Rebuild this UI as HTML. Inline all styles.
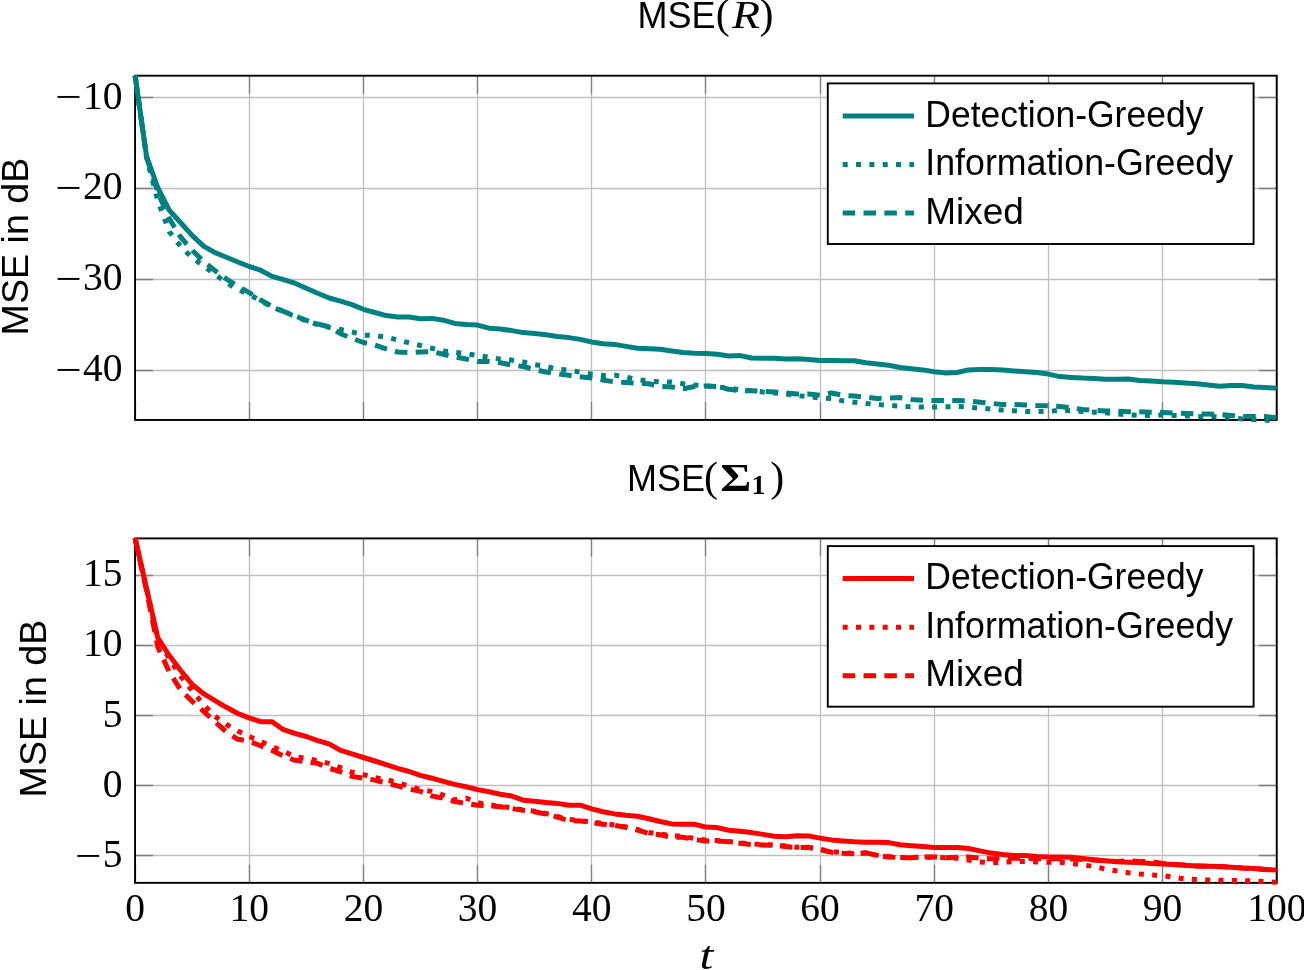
<!DOCTYPE html>
<html lang="en"><head><meta charset="utf-8"><title>MSE plots</title>
<style>html,body{margin:0;padding:0;background:#fff}body{width:1304px;height:970px;overflow:hidden}svg{display:block}.sans{font-family:"Liberation Sans", sans-serif;font-size:36.5px;fill:#000}.ser{font-family:"Liberation Serif", serif;font-size:39.5px;fill:#000}.grid{stroke:#bfbfbf;stroke-width:1.3;fill:none}.tick{stroke:#808080;stroke-width:1.3;fill:none}.box{stroke:#000;stroke-width:1.9;fill:none}.ln{fill:none;stroke-width:5;stroke-linejoin:round}.dot{stroke-dasharray:5 8.33}.dash{stroke-dasharray:12.5 8.33}</style></head><body>
<svg width="1304" height="970" viewBox="0 0 1304 970">
<rect width="1304" height="970" fill="#fff"/>
<defs><clipPath id="c1"><rect x="132.05" y="72.7" width="1147.7" height="350.25"/></clipPath><clipPath id="c2"><rect x="132.05" y="535.4" width="1147.7" height="350.45000000000005"/></clipPath></defs>
<!-- top plot -->
<path class="grid" d="M249.5 75.7 V419.95 M363.5 75.7 V419.95 M477.5 75.7 V419.95 M591.5 75.7 V419.95 M705.5 75.7 V419.95 M820.5 75.7 V419.95 M934.5 75.7 V419.95 M1048.5 75.7 V419.95 M1162.5 75.7 V419.95 M135.05 97.5 H1276.75 M135.05 188.5 H1276.75 M135.05 279.5 H1276.75 M135.05 370.5 H1276.75"/>
<path class="tick" d="M135.5 75.7 v18.0 M135.5 419.95 v-18.0 M249.5 75.7 v18.0 M249.5 419.95 v-18.0 M363.5 75.7 v18.0 M363.5 419.95 v-18.0 M477.5 75.7 v18.0 M477.5 419.95 v-18.0 M591.5 75.7 v18.0 M591.5 419.95 v-18.0 M705.5 75.7 v18.0 M705.5 419.95 v-18.0 M820.5 75.7 v18.0 M820.5 419.95 v-18.0 M934.5 75.7 v18.0 M934.5 419.95 v-18.0 M1048.5 75.7 v18.0 M1048.5 419.95 v-18.0 M1162.5 75.7 v18.0 M1162.5 419.95 v-18.0 M1276.5 75.7 v18.0 M1276.5 419.95 v-18.0 M135.05 97.5 h18.0 M1276.75 97.5 h-18.0 M135.05 188.5 h18.0 M1276.75 188.5 h-18.0 M135.05 279.5 h18.0 M1276.75 279.5 h-18.0 M135.05 370.5 h18.0 M1276.75 370.5 h-18.0"/>
<rect class="box" x="135.05" y="75.7" width="1141.7" height="344.25"/>
<g clip-path="url(#c1)" stroke="#008080">
<path class="ln" d="M135.1 75.6 L146.5 156.0 L157.9 188.0 L169.3 210.3 L180.7 222.8 L192.1 235.4 L203.6 246.1 L215.0 252.6 L226.4 257.3 L237.8 262.0 L249.2 266.5 L260.6 270.2 L272.1 276.4 L283.5 279.6 L294.9 283.2 L306.3 288.2 L317.7 293.3 L329.1 298.0 L340.6 301.2 L352.0 304.6 L363.4 309.3 L374.8 312.5 L386.2 315.6 L397.6 317.1 L409.1 317.1 L420.5 318.7 L431.9 318.4 L443.3 320.2 L454.7 323.4 L466.1 324.6 L477.6 325.1 L489.0 328.2 L500.4 329.1 L511.8 330.6 L523.2 332.6 L534.6 333.4 L546.1 334.8 L557.5 336.5 L568.9 337.6 L580.3 339.4 L591.7 342.0 L603.1 343.8 L614.6 344.4 L626.0 346.4 L637.4 348.2 L648.8 348.8 L660.2 349.3 L671.6 351.0 L683.1 352.5 L694.5 353.2 L705.9 353.6 L717.3 354.3 L728.7 356.0 L740.2 355.6 L751.6 358.0 L763.0 358.3 L774.4 358.2 L785.8 358.9 L797.2 358.7 L808.7 359.5 L820.1 360.4 L831.5 360.4 L842.9 360.7 L854.3 360.7 L865.7 362.8 L877.2 363.9 L888.6 365.3 L900.0 367.5 L911.4 368.7 L922.8 369.9 L934.2 371.8 L945.7 373.1 L957.1 372.5 L968.5 369.9 L979.9 369.4 L991.3 369.6 L1002.7 369.9 L1014.2 370.9 L1025.6 371.8 L1037.0 372.5 L1048.4 374.1 L1059.8 376.6 L1071.2 377.4 L1082.7 378.1 L1094.1 378.5 L1105.5 379.2 L1116.9 379.2 L1128.3 379.0 L1139.7 380.5 L1151.2 381.0 L1162.6 381.8 L1174.0 382.2 L1185.4 382.9 L1196.8 383.8 L1208.2 385.1 L1219.7 386.2 L1231.1 385.6 L1242.5 385.6 L1253.9 386.9 L1265.3 387.5 L1276.8 388.2"/>
<path class="ln dot" d="M135.1 75.6 L146.5 157.5 L157.9 201.0 L169.3 231.7 L180.7 246.5 L192.1 257.7 L203.6 266.0 L215.0 274.4 L226.4 282.7 L237.8 289.5 L249.2 294.5 L260.6 300.6 L272.1 307.1 L283.5 311.7 L294.9 316.3 L306.3 320.9 L317.7 324.5 L329.1 327.3 L340.6 329.5 L352.0 331.9 L363.4 335.1 L374.8 335.4 L386.2 337.2 L397.6 340.0 L409.1 342.8 L420.5 345.5 L431.9 348.3 L443.3 351.0 L454.7 352.3 L466.1 353.7 L477.6 355.5 L489.0 357.3 L500.4 359.1 L511.8 360.1 L523.2 361.9 L534.6 364.7 L546.1 366.5 L557.5 369.3 L568.9 370.2 L580.3 372.1 L591.7 374.2 L603.1 375.5 L614.6 375.1 L626.0 377.3 L637.4 379.5 L648.8 381.0 L660.2 381.9 L671.6 381.9 L683.1 383.7 L694.5 385.0 L705.9 386.0 L717.3 386.9 L728.7 388.0 L740.2 389.8 L751.6 390.6 L763.0 392.0 L774.4 393.0 L785.8 393.9 L797.2 395.7 L808.7 396.6 L820.1 398.0 L831.5 398.5 L842.9 400.9 L854.3 402.2 L865.7 403.4 L877.2 404.5 L888.6 405.3 L900.0 406.2 L911.4 406.8 L922.8 407.1 L934.2 407.1 L945.7 406.8 L957.1 406.4 L968.5 407.1 L979.9 408.2 L991.3 409.0 L1002.7 410.1 L1014.2 410.8 L1025.6 411.4 L1037.0 411.5 L1048.4 411.5 L1059.8 410.3 L1071.2 410.9 L1082.7 411.6 L1094.1 412.2 L1105.5 412.7 L1116.9 414.0 L1128.3 414.9 L1139.7 415.5 L1151.2 415.5 L1162.6 414.9 L1174.0 415.5 L1185.4 415.8 L1196.8 416.8 L1208.2 416.4 L1219.7 416.8 L1231.1 417.7 L1242.5 419.0 L1253.9 419.5 L1265.3 420.1 L1276.8 421.0"/>
<path class="ln dash" d="M135.1 75.6 L146.5 157.0 L157.9 192.7 L169.3 218.7 L180.7 237.2 L192.1 250.2 L203.6 261.4 L215.0 270.6 L226.4 279.0 L237.8 286.2 L249.2 292.6 L260.6 300.0 L272.1 306.5 L283.5 311.4 L294.9 315.8 L306.3 320.4 L317.7 324.0 L329.1 326.8 L340.6 333.7 L352.0 338.4 L363.4 342.5 L374.8 345.0 L386.2 348.8 L397.6 352.0 L409.1 352.5 L420.5 352.0 L431.9 351.5 L443.3 354.3 L454.7 356.8 L466.1 359.0 L477.6 361.5 L489.0 361.5 L500.4 362.8 L511.8 365.0 L523.2 366.5 L534.6 369.6 L546.1 372.0 L557.5 373.9 L568.9 375.3 L580.3 376.8 L591.7 378.1 L603.1 380.1 L614.6 381.9 L626.0 382.5 L637.4 383.2 L648.8 383.7 L660.2 386.5 L671.6 386.9 L683.1 388.7 L694.5 386.5 L705.9 386.0 L717.3 386.5 L728.7 389.3 L740.2 390.6 L751.6 390.7 L763.0 391.5 L774.4 392.0 L785.8 393.0 L797.2 393.9 L808.7 394.1 L820.1 395.3 L831.5 393.0 L842.9 395.3 L854.3 396.1 L865.7 397.2 L877.2 398.5 L888.6 398.1 L900.0 397.6 L911.4 399.4 L922.8 400.3 L934.2 400.5 L945.7 400.5 L957.1 400.5 L968.5 400.9 L979.9 402.2 L991.3 403.4 L1002.7 404.5 L1014.2 404.5 L1025.6 404.9 L1037.0 405.5 L1048.4 405.8 L1059.8 406.6 L1071.2 407.9 L1082.7 409.4 L1094.1 410.3 L1105.5 410.9 L1116.9 411.2 L1128.3 411.8 L1139.7 411.8 L1151.2 412.2 L1162.6 412.5 L1174.0 413.1 L1185.4 413.4 L1196.8 414.0 L1208.2 414.0 L1219.7 414.5 L1231.1 415.5 L1242.5 416.4 L1253.9 416.4 L1265.3 416.4 L1276.8 417.7"/>
</g>
<rect x="827.8" y="83.4" width="425.8" height="160.6" fill="#fff" stroke="#000" stroke-width="1.9"/>
<g stroke="#008080"><path class="ln" d="M842.7 115.9 H914"/><path class="ln dot" d="M842.7 164.6 H914"/><path class="ln dash" d="M842.7 213.0 H914"/></g>
<text class="sans" x="925.3" y="126.5" textLength="278.1" lengthAdjust="spacingAndGlyphs">Detection-Greedy</text>
<text class="sans" x="925.3" y="175.2" textLength="307.8" lengthAdjust="spacingAndGlyphs">Information-Greedy</text>
<text class="sans" x="925.2" y="223.6" textLength="98.7" lengthAdjust="spacingAndGlyphs">Mixed</text>
<text class="ser" y="108.5"><tspan x="55.2" dy="1.6" textLength="26.5" lengthAdjust="spacingAndGlyphs">−</tspan><tspan x="83.1" dy="-1.6">10</tspan></text>
<text class="ser" y="199.4"><tspan x="55.2" dy="1.6" textLength="26.5" lengthAdjust="spacingAndGlyphs">−</tspan><tspan x="83.1" dy="-1.6">20</tspan></text>
<text class="ser" y="290.3"><tspan x="55.2" dy="1.6" textLength="26.5" lengthAdjust="spacingAndGlyphs">−</tspan><tspan x="83.1" dy="-1.6">30</tspan></text>
<text class="ser" y="381.3"><tspan x="55.2" dy="1.6" textLength="26.5" lengthAdjust="spacingAndGlyphs">−</tspan><tspan x="83.1" dy="-1.6">40</tspan></text>
<text class="sans" x="637.5" y="27.5" textLength="78" lengthAdjust="spacingAndGlyphs">MSE</text>
<text class="ser" x="715.8" y="27.5" style="font-size:42px">(</text>
<text class="ser" x="732" y="27.5" style="font-size:41px" font-style="italic" textLength="28" lengthAdjust="spacingAndGlyphs">R</text>
<text class="ser" x="759.6" y="27.5" style="font-size:42px">)</text>
<text class="sans" transform="translate(27.7 335.4) rotate(-90)" textLength="177.7" lengthAdjust="spacingAndGlyphs">MSE in dB</text>
<!-- bottom plot -->
<path class="grid" d="M249.5 538.4 V882.85 M363.5 538.4 V882.85 M477.5 538.4 V882.85 M591.5 538.4 V882.85 M705.5 538.4 V882.85 M820.5 538.4 V882.85 M934.5 538.4 V882.85 M1048.5 538.4 V882.85 M1162.5 538.4 V882.85 M135.05 575.5 H1276.75 M135.05 645.5 H1276.75 M135.05 715.5 H1276.75 M135.05 785.5 H1276.75 M135.05 855.5 H1276.75"/>
<path class="tick" d="M135.5 538.4 v18.0 M135.5 882.85 v-18.0 M249.5 538.4 v18.0 M249.5 882.85 v-18.0 M363.5 538.4 v18.0 M363.5 882.85 v-18.0 M477.5 538.4 v18.0 M477.5 882.85 v-18.0 M591.5 538.4 v18.0 M591.5 882.85 v-18.0 M705.5 538.4 v18.0 M705.5 882.85 v-18.0 M820.5 538.4 v18.0 M820.5 882.85 v-18.0 M934.5 538.4 v18.0 M934.5 882.85 v-18.0 M1048.5 538.4 v18.0 M1048.5 882.85 v-18.0 M1162.5 538.4 v18.0 M1162.5 882.85 v-18.0 M1276.5 538.4 v18.0 M1276.5 882.85 v-18.0 M135.05 575.5 h18.0 M1276.75 575.5 h-18.0 M135.05 645.5 h18.0 M1276.75 645.5 h-18.0 M135.05 715.5 h18.0 M1276.75 715.5 h-18.0 M135.05 785.5 h18.0 M1276.75 785.5 h-18.0 M135.05 855.5 h18.0 M1276.75 855.5 h-18.0"/>
<rect class="box" x="135.05" y="538.4" width="1141.7" height="344.45000000000005"/>
<g clip-path="url(#c2)" stroke="#ff0000">
<path class="ln" d="M135.1 538.3 L146.5 588.3 L157.9 638.2 L169.3 655.6 L180.7 670.5 L192.1 684.4 L203.6 693.7 L215.0 700.6 L226.4 707.3 L237.8 713.5 L249.2 717.8 L260.6 721.7 L272.1 721.7 L283.5 729.7 L294.9 733.4 L306.3 736.5 L317.7 740.6 L329.1 743.9 L340.6 750.4 L352.0 753.8 L363.4 757.5 L374.8 761.0 L386.2 764.7 L397.6 768.4 L409.1 771.5 L420.5 775.4 L431.9 778.2 L443.3 781.3 L454.7 784.4 L466.1 786.8 L477.6 789.6 L489.0 791.8 L500.4 794.2 L511.8 796.0 L523.2 800.2 L534.6 801.2 L546.1 802.5 L557.5 803.4 L568.9 805.2 L580.3 805.2 L591.7 808.9 L603.1 811.7 L614.6 813.9 L626.0 815.3 L637.4 816.3 L648.8 818.8 L660.2 821.5 L671.6 823.9 L683.1 824.3 L694.5 824.3 L705.9 827.1 L717.3 827.6 L728.7 830.2 L740.2 831.3 L751.6 832.6 L763.0 834.4 L774.4 836.3 L785.8 836.8 L797.2 835.7 L808.7 835.9 L820.1 838.1 L831.5 839.9 L842.9 840.9 L854.3 841.8 L865.7 842.2 L877.2 842.2 L888.6 842.6 L900.0 844.8 L911.4 845.7 L922.8 846.6 L934.2 847.5 L945.7 847.5 L957.1 847.5 L968.5 848.5 L979.9 850.9 L991.3 853.1 L1002.7 854.5 L1014.2 855.5 L1025.6 855.5 L1037.0 856.4 L1048.4 856.9 L1059.8 857.1 L1071.2 857.2 L1082.7 858.4 L1094.1 859.7 L1105.5 860.7 L1116.9 861.7 L1128.3 862.2 L1139.7 862.6 L1151.2 863.5 L1162.6 863.9 L1174.0 864.4 L1185.4 865.3 L1196.8 865.9 L1208.2 866.3 L1219.7 866.6 L1231.1 867.2 L1242.5 868.1 L1253.9 868.5 L1265.3 869.6 L1276.8 869.9"/>
<path class="ln dot" d="M135.1 538.3 L146.5 589.0 L157.9 640.0 L169.3 658.5 L180.7 676.3 L192.1 690.6 L203.6 704.6 L215.0 716.3 L226.4 724.5 L237.8 731.0 L249.2 736.5 L260.6 741.2 L272.1 746.7 L283.5 751.4 L294.9 756.6 L306.3 758.4 L317.7 760.7 L329.1 763.4 L340.6 767.7 L352.0 772.2 L363.4 774.6 L374.8 777.7 L386.2 779.6 L397.6 782.6 L409.1 786.2 L420.5 789.6 L431.9 791.4 L443.3 795.1 L454.7 799.7 L466.1 798.2 L477.6 802.5 L489.0 804.8 L500.4 806.1 L511.8 808.0 L523.2 809.8 L534.6 811.3 L546.1 813.5 L557.5 816.5 L568.9 819.5 L580.3 820.5 L591.7 822.0 L603.1 823.5 L614.6 825.0 L626.0 827.0 L637.4 829.5 L648.8 832.5 L660.2 834.0 L671.6 835.5 L683.1 836.5 L694.5 838.5 L705.9 840.0 L717.3 840.5 L728.7 841.5 L740.2 842.8 L751.6 844.0 L763.0 844.5 L774.4 845.0 L785.8 846.0 L797.2 847.2 L808.7 847.5 L820.1 849.5 L831.5 851.5 L842.9 852.7 L854.3 853.5 L865.7 853.2 L877.2 855.2 L888.6 856.5 L900.0 857.4 L911.4 857.6 L922.8 857.2 L934.2 857.2 L945.7 857.7 L957.1 858.2 L968.5 860.1 L979.9 861.9 L991.3 862.8 L1002.7 862.3 L1014.2 861.5 L1025.6 861.5 L1037.0 861.9 L1048.4 862.3 L1059.8 862.3 L1071.2 863.5 L1082.7 864.8 L1094.1 866.6 L1105.5 869.0 L1116.9 870.9 L1128.3 872.7 L1139.7 874.0 L1151.2 874.9 L1162.6 875.5 L1174.0 877.3 L1185.4 879.1 L1196.8 879.5 L1208.2 879.9 L1219.7 880.3 L1231.1 880.4 L1242.5 880.6 L1253.9 881.0 L1265.3 881.5 L1276.8 882.3"/>
<path class="ln dash" d="M135.1 538.3 L146.5 590.5 L157.9 647.3 L169.3 672.0 L180.7 690.1 L192.1 701.3 L203.6 711.3 L215.0 721.7 L226.4 731.9 L237.8 739.3 L249.2 741.2 L260.6 745.8 L272.1 750.4 L283.5 756.0 L294.9 760.3 L306.3 761.6 L317.7 763.4 L329.1 768.1 L340.6 771.8 L352.0 776.4 L363.4 778.3 L374.8 780.1 L386.2 782.9 L397.6 785.8 L409.1 789.0 L420.5 791.4 L431.9 796.0 L443.3 798.2 L454.7 801.5 L466.1 803.4 L477.6 805.2 L489.0 805.6 L500.4 806.7 L511.8 808.5 L523.2 810.4 L534.6 811.7 L546.1 814.1 L557.5 817.2 L568.9 820.5 L580.3 820.9 L591.7 822.7 L603.1 824.2 L614.6 825.5 L626.0 827.3 L637.4 830.0 L648.8 833.5 L660.2 834.8 L671.6 837.2 L683.1 837.2 L694.5 839.6 L705.9 840.9 L717.3 840.9 L728.7 841.8 L740.2 843.3 L751.6 844.5 L763.0 844.9 L774.4 845.5 L785.8 846.4 L797.2 847.7 L808.7 847.3 L820.1 849.5 L831.5 852.3 L842.9 853.2 L854.3 853.7 L865.7 852.8 L877.2 855.5 L888.6 856.9 L900.0 857.7 L911.4 857.7 L922.8 856.9 L934.2 856.9 L945.7 857.7 L957.1 857.3 L968.5 856.9 L979.9 858.2 L991.3 858.8 L1002.7 858.2 L1014.2 858.2 L1025.6 858.2 L1037.0 858.8 L1048.4 858.8 L1059.8 858.8 L1071.2 859.1 L1082.7 859.5 L1094.1 860.1 L1105.5 860.9 L1116.9 861.5 L1128.3 860.7 L1139.7 861.5 L1151.2 861.7 L1162.6 863.5 L1174.0 864.4 L1185.4 865.3 L1196.8 865.9 L1208.2 866.3 L1219.7 866.6 L1231.1 867.2 L1242.5 868.1 L1253.9 868.5 L1265.3 869.6 L1276.8 869.9"/>
</g>
<rect x="827.8" y="546.1" width="425.8" height="160.6" fill="#fff" stroke="#000" stroke-width="1.9"/>
<g stroke="#ff0000"><path class="ln" d="M842.7 578.6 H914"/><path class="ln dot" d="M842.7 627.3 H914"/><path class="ln dash" d="M842.7 675.7 H914"/></g>
<text class="sans" x="925.3" y="589.2" textLength="278.1" lengthAdjust="spacingAndGlyphs">Detection-Greedy</text>
<text class="sans" x="925.3" y="637.9" textLength="307.8" lengthAdjust="spacingAndGlyphs">Information-Greedy</text>
<text class="sans" x="925.2" y="686.3" textLength="98.7" lengthAdjust="spacingAndGlyphs">Mixed</text>
<text class="ser" x="122.6" y="586.2" text-anchor="end">15</text>
<text class="ser" x="122.6" y="656.4" text-anchor="end">10</text>
<text class="ser" x="122.6" y="726.6" text-anchor="end">5</text>
<text class="ser" x="122.6" y="796.7" text-anchor="end">0</text>
<text class="ser" y="866.9"><tspan x="75.0" dy="1.6" textLength="26.5" lengthAdjust="spacingAndGlyphs">−</tspan><tspan x="102.8" dy="-1.6">5</tspan></text>
<text class="sans" x="627" y="490.6" textLength="78" lengthAdjust="spacingAndGlyphs">MSE</text>
<text class="ser" x="704" y="490.6" style="font-size:42px">(</text>
<text class="ser" x="720.3" y="490.6" style="font-size:39.5px" font-weight="bold" textLength="31" lengthAdjust="spacingAndGlyphs">Σ</text>
<text class="ser" x="751.5" y="494.3" style="font-size:28px" font-weight="bold">1</text>
<text class="ser" x="770.2" y="490.6" style="font-size:42px">)</text>
<text class="sans" transform="translate(46.1 797.4) rotate(-90)" textLength="177.7" lengthAdjust="spacingAndGlyphs">MSE in dB</text>
<text class="ser" x="135.1" y="920.6" text-anchor="middle">0</text>
<text class="ser" x="249.2" y="920.6" text-anchor="middle">10</text>
<text class="ser" x="363.4" y="920.6" text-anchor="middle">20</text>
<text class="ser" x="477.6" y="920.6" text-anchor="middle">30</text>
<text class="ser" x="591.7" y="920.6" text-anchor="middle">40</text>
<text class="ser" x="705.9" y="920.6" text-anchor="middle">50</text>
<text class="ser" x="820.1" y="920.6" text-anchor="middle">60</text>
<text class="ser" x="934.2" y="920.6" text-anchor="middle">70</text>
<text class="ser" x="1048.4" y="920.6" text-anchor="middle">80</text>
<text class="ser" x="1162.6" y="920.6" text-anchor="middle">90</text>
<text class="ser" x="1276.8" y="920.6" text-anchor="middle">100</text>
<text class="ser" x="699.6" y="969" font-style="italic" style="font-size:41px" textLength="13.8" lengthAdjust="spacingAndGlyphs">t</text>
</svg></body></html>
